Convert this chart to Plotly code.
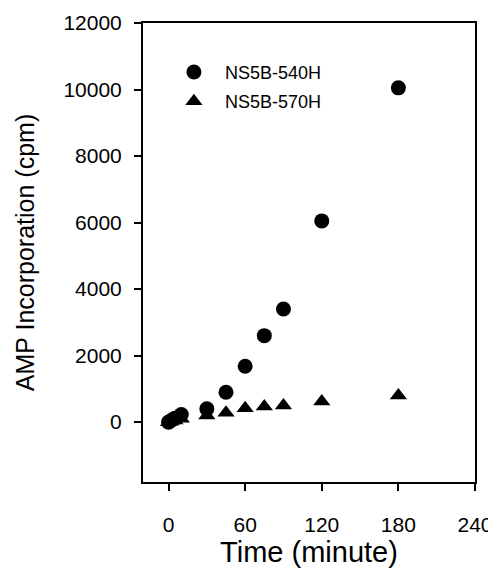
import plotly.graph_objects as go

# time points (minutes)
time_min = [0, 2, 5, 10, 30, 45, 60, 75, 90, 120, 180]

# AMP incorporation (cpm)
ns5b_540h = [0, 50, 120, 230, 400, 900, 1680, 2600, 3400, 6050, 10050]
ns5b_570h = [0, 20, 50, 100, 200, 280, 420, 470, 500, 620, 800]

x_ticks = [0, 60, 120, 180, 240]
y_ticks = [0, 2000, 4000, 6000, 8000, 10000, 12000]
y_labels = ['0', '2000', '4000', '6000', '8000', '10000', '12000']

font_family = "Liberation Sans, Arial, sans-serif"

fig = go.Figure()
fig.add_trace(go.Scatter(x=time_min, y=ns5b_540h, mode='markers', name='NS5B-540H',
                         legendgroup='a',
                         marker=dict(symbol='circle', size=15, color='black')))
fig.add_trace(go.Scatter(x=time_min, y=ns5b_570h, mode='markers', name='NS5B-570H',
                         legendgroup='b',
                         marker=dict(symbol='triangle-up', size=15, color='black')))

axis_common = dict(showline=True, linecolor='black', linewidth=2, mirror=True,
                   ticks='outside', ticklen=7, tickwidth=2, tickcolor='black',
                   showgrid=False, zeroline=False, automargin=False,
                   tickfont=dict(family=font_family, size=21, color='black'))

fig.update_xaxes(range=[-20, 240], tickvals=x_ticks, ticklabelstandoff=16,
                 title=dict(text='Time (minute)', font=dict(family=font_family, size=29, color='black'),
                            standoff=6),
                 **axis_common)
fig.update_yaxes(range=[-1800, 12000], tickvals=y_ticks, ticktext=y_labels,
                 ticklabelstandoff=8,
                 title=dict(text='AMP Incorporation (cpm)', font=dict(family=font_family, size=25, color='black'),
                            standoff=22),
                 **axis_common)

# the page has an 8px body margin, so the plot box sits 8px in from the figure edge
fig.update_layout(
    width=496, height=583,
    margin=dict(l=135, r=29, t=15, b=109),
    plot_bgcolor='white', paper_bgcolor='white',
    showlegend=True,
    legend=dict(x=0.06, y=0.933, xanchor='left', yanchor='top',
                traceorder='grouped', tracegroupgap=3, itemwidth=52,
                font=dict(family=font_family, size=18, color='black'),
                bgcolor='rgba(0,0,0,0)'),
)

fig.write_html("out.html")
